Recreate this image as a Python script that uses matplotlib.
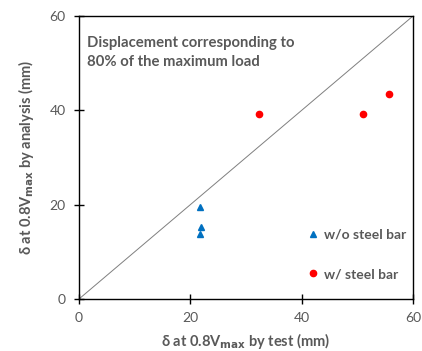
import matplotlib
matplotlib.use("Agg")
import matplotlib.pyplot as plt

plt.rcParams['font.family'] = ['Lato', 'DejaVu Sans']
plt.rcParams['mathtext.default'] = 'regular'

# data
wo_x = [21.7, 21.9, 21.7]
wo_y = [19.6, 15.3, 13.8]
w_x = [32.4, 51.0, 55.6]
w_y = [39.2, 39.2, 43.4]
ticks = [0, 20, 40, 60]
diag = [0, 60]

gray = '#595959'
fig = plt.figure(figsize=(4.22, 3.51), dpi=100)
ax = fig.add_axes([79/422, 52/351, 334/422, 283/351])

ax.plot(diag, diag, color='#7f7f7f', lw=0.7, zorder=1)
ax.plot(wo_x, wo_y, linestyle='none', marker='^', color='#0070c0', ms=5, label='w/o steel bar', zorder=3)
ax.plot(w_x, w_y, linestyle='none', marker='o', color='#ff0000', ms=4.5, label='w/ steel bar', zorder=3)

ax.set_xlim(0, 60)
ax.set_ylim(0, 60)
ax.set_xticks(ticks)
ax.set_yticks(ticks)
ax.tick_params(direction='inout', length=7, width=1, labelsize=10, labelcolor=gray, pad=6)
for s in ax.spines.values():
    s.set_color('black')
    s.set_linewidth(1)

ax.set_xlabel(r'δ at 0.8V$_{\mathbf{max}}$ by test (mm)', fontsize=10.5, fontweight='bold', color=gray, labelpad=5)
ax.set_ylabel(r'δ at 0.8V$_{\mathbf{max}}$ by analysis (mm)', fontsize=10.5, fontweight='bold', color=gray, labelpad=10)

ax.text(0.025, 0.93, 'Displacement corresponding to\n80% of the maximum load', transform=ax.transAxes,
        fontsize=10.7, fontweight='bold', color=gray, va='top', ha='left', linespacing=1.5)

leg = ax.legend(loc='lower right', bbox_to_anchor=(1.0, 0.042), frameon=False, fontsize=10,
                handlelength=0.7, handletextpad=0.4, labelspacing=2.0, borderaxespad=0.1)
for t in leg.get_texts():
    t.set_color(gray)
    t.set_fontweight('bold')

fig.savefig('out.png', dpi=100)
